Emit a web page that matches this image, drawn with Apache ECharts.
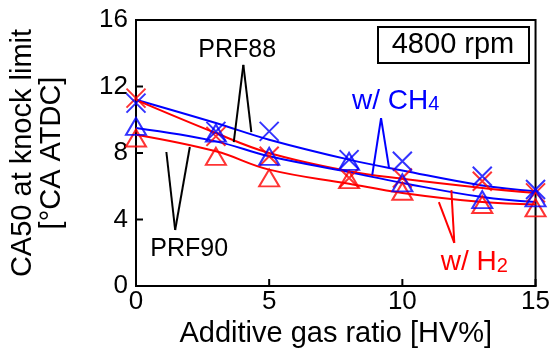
<!DOCTYPE html>
<html><head><meta charset="utf-8">
<script src="https://cdn.jsdelivr.net/npm/echarts@6/dist/echarts.min.js"></script>
<style>html,body{margin:0;padding:0;background:#fff}#c{width:553px;height:356px}</style>
</head><body><div id="c"></div>
<script>
// Data
const xValues = [0, 3, 5, 8, 10, 13, 15];
// measured points
const prf88CH4 = [11.0, 9.3, 9.3, 7.6, 7.5, 6.6, 5.8];   // blue X
const prf88H2  = [11.3, 9.0, 7.8, 6.5, 6.5, 6.3, 5.6];   // red X
const prf90CH4 = [9.6, 9.2, 7.8, 7.5, 6.2, 5.2, 5.3];    // blue triangle
const prf90H2  = [8.9, 7.8, 6.5, 6.4, 5.7, 4.9, 4.7];    // red triangle
// fitted trend curves
const fit88CH4 = [11.2, 9.8, 8.8, 7.6, 6.95, 6.05, 5.7];
const fit88H2  = [11.2, 9.2, 8.0, 6.9, 6.45, 5.9, 5.6];
const fit90CH4 = [9.5, 8.7, 7.8, 6.85, 6.2, 5.35, 5.05];
const fit90H2  = [9.1, 8.1, 7.0, 6.15, 5.6, 5.05, 4.9];
const yTicks = [0, 4, 8, 12, 16];
const xTicks = [0, 5, 10, 15];

const BLUE = '#0000ff', RED = '#ff0000';
const FONT = 'Liberation Sans, Arial, sans-serif';
const pair = arr => xValues.map((x, i) => [x, arr[i]]);
const X_SYM = 'path://M0,0L10,10M0,10L10,0';

function fitSeries(arr, color) {
  return { type: 'line', data: pair(arr), smooth: 0.4, showSymbol: false, symbol: 'none',
    lineStyle: { color, width: 2 }, z: 2, silent: true, animation: false };
}
function ptSeries(arr, color, sym) {
  const isX = sym === 'x';
  return { type: 'scatter', data: pair(arr), symbol: isX ? X_SYM : 'triangle',
    symbolSize: isX ? [19, 19] : [20, 17],
    itemStyle: { color: 'rgba(0,0,0,0)', borderColor: color, borderWidth: 2 },
    z: 3, silent: true, animation: false };
}

const chart = echarts.init(document.getElementById('c'));
chart.setOption({
  animation: false,
  grid: { left: 132, right: 10, top: 20, bottom: 70, show: true, borderColor: '#000', borderWidth: 2, backgroundColor: 'transparent' },
  xAxis: {
    type: 'value', min: 0, max: 15, interval: 5,
    name: 'Additive gas ratio [HV%]', nameLocation: 'middle', nameGap: 29,
    nameTextStyle: { fontSize: 29, color: '#000', fontFamily: FONT },
    axisLine: { show: true, onZero: false, lineStyle: { color: '#000', width: 2 } },
    axisTick: { show: false },
    axisLabel: { fontSize: 26, color: '#000', fontFamily: FONT, margin: 3 },
    splitLine: { show: false }
  },
  yAxis: {
    type: 'value', min: 0, max: 16, interval: 4,
    name: 'CA50 at knock limit\n[°CA ATDC]', nameLocation: 'middle', nameGap: 70, nameRotate: 90,
    nameTextStyle: { fontSize: 29, color: '#000', fontFamily: FONT, lineHeight: 29, align: 'center' },
    axisLine: { show: true, onZero: false, lineStyle: { color: '#000', width: 2 } },
    axisTick: { show: false },
    axisLabel: { fontSize: 26, color: '#000', fontFamily: FONT, margin: 8 },
    splitLine: { show: false }
  },
  series: [
    fitSeries(fit88CH4, BLUE), fitSeries(fit88H2, RED),
    fitSeries(fit90CH4, BLUE), fitSeries(fit90H2, RED),
    ptSeries(prf90H2, RED, 'tri'), ptSeries(prf88H2, RED, 'x'),
    ptSeries(prf90CH4, BLUE, 'tri'), ptSeries(prf88CH4, BLUE, 'x')
  ]
});

// Annotations, anchored in data coordinates
const annotations = [
  { text: 'PRF88', color: '#000', label: [3.8, 14.2], apex: [4.03, 13.3], legs: [[3.67, 8.66], [4.33, 9.26]] },
  { text: 'PRF90', color: '#000', label: [2.0, 2.2], apex: [1.47, 3.37], legs: [[1.14, 8.06], [2.02, 8.36]] },
  { text: 'CH4', color: BLUE, label: [9.75, 11.2], apex: [9.2, 10.1], legs: [[8.87, 6.68], [9.5, 7.1]] },
  { text: 'H2', color: RED, label: [12.7, 1.5], apex: [11.95, 2.6], legs: [[11.37, 5.05], [11.84, 5.77]] }
];
const toPx = p => chart.convertToPixel({ gridIndex: 0 }, p);
const graphics = [];
// inward tick marks placed through the axis scales
const TICK = 7;
xTicks.forEach(v => {
  const p = toPx([v, 0]);
  graphics.push({ type: 'line', shape: { x1: p[0], y1: p[1], x2: p[0], y2: p[1] - TICK },
    style: { stroke: '#000', lineWidth: 2 }, z: 9 });
});
yTicks.forEach(v => {
  const p = toPx([0, v]);
  graphics.push({ type: 'line', shape: { x1: p[0], y1: p[1], x2: p[0] + TICK, y2: p[1] },
    style: { stroke: '#000', lineWidth: 2 }, z: 9 });
});
annotations.forEach(a => {
  const ap = toPx(a.apex);
  a.legs.forEach(l => {
    const lp = toPx(l);
    graphics.push({ type: 'line', shape: { x1: ap[0], y1: ap[1], x2: lp[0], y2: lp[1] },
      style: { stroke: a.color, lineWidth: 2 }, z: 10 });
  });
  const lp = toPx(a.label);
  let style;
  if (a.text === 'CH4' || a.text === 'H2') {
    style = { text: '{m|w/ ' + (a.text === 'CH4' ? 'CH' : 'H') + '}{s|' + (a.text === 'CH4' ? '4' : '2') + '}',
      rich: { m: { fontSize: 28, fill: a.color, fontFamily: FONT, verticalAlign: 'bottom', lineHeight: 30 },
              s: { fontSize: 20, fill: a.color, fontFamily: FONT, verticalAlign: 'bottom', lineHeight: 22 } },
      x: lp[0], y: lp[1], textAlign: 'center', textVerticalAlign: 'middle' };
  } else {
    style = { text: a.text, fontSize: 25, fill: a.color, fontFamily: FONT,
      x: lp[0], y: lp[1], textAlign: 'center', textVerticalAlign: 'middle' };
  }
  graphics.push({ type: 'text', style, z: 10 });
});
// "4800 rpm" box
graphics.push({ type: 'rect', shape: { x: 378, y: 27, width: 151, height: 36 },
  style: { fill: '#fff', stroke: '#000', lineWidth: 2 }, z: 10 });
graphics.push({ type: 'text', style: { text: '4800 rpm', x: 453, y: 45, fontSize: 29, fill: '#000',
  fontFamily: FONT, textAlign: 'center', textVerticalAlign: 'middle' }, z: 11 });
chart.setOption({ graphic: graphics });
</script>
</body></html>
